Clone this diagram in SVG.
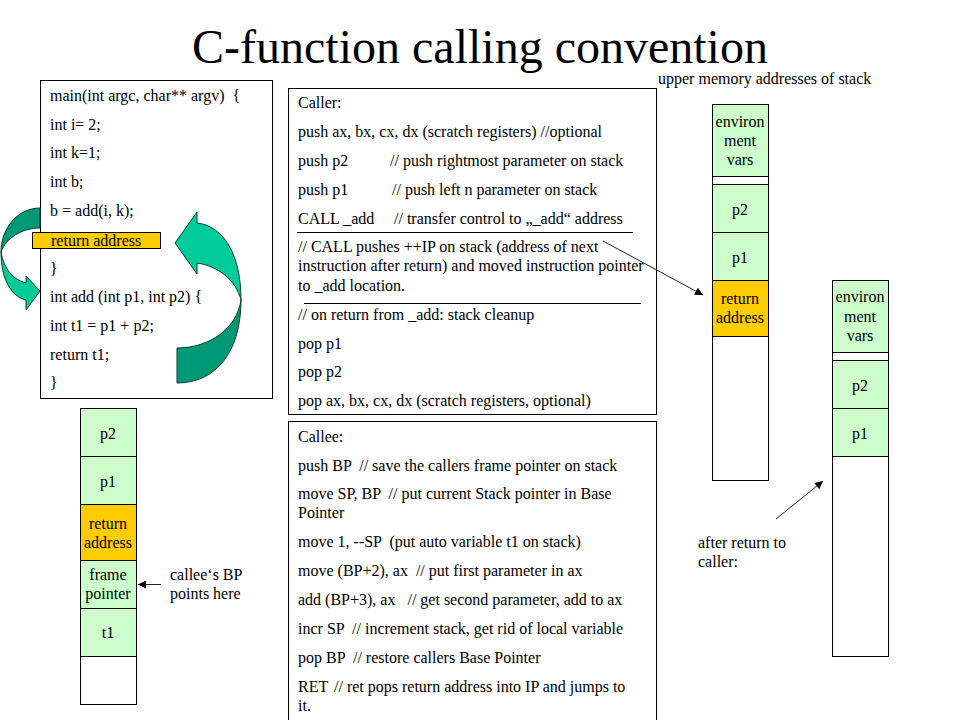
<svg xmlns="http://www.w3.org/2000/svg" width="960" height="720" viewBox="0 0 960 720">
<style>
.t{font-family:"Liberation Serif","Times New Roman",serif;font-size:16px;fill:#000;white-space:pre}
.c{text-anchor:middle}
.box{fill:#fff;stroke:#000;stroke-width:1}
.g{fill:#ccffcc;stroke:#000;stroke-width:1}
.y{fill:#ffcc00;stroke:#000;stroke-width:1}
.w{fill:#fff;stroke:#000;stroke-width:1}
.ln{stroke:#000;stroke-width:1;fill:none}
.con{stroke:#222;stroke-width:1;fill:none;marker-end:url(#ah)}
.dk{fill:#009977;stroke:#0b3d2e;stroke-width:1}
.lt{fill:#00cc99;stroke:#0b3d2e;stroke-width:1}
</style>
<defs>
<marker id="ah" viewBox="0 0 10 10" refX="10" refY="5" markerWidth="10" markerHeight="8" markerUnits="userSpaceOnUse" orient="auto">
<path d="M0,0 L10,5 L0,10 z" fill="#000"/>
</marker>
</defs>
<rect width="960" height="720" fill="#fff"/>
<text x="480" y="63" class="t c" style="font-size:48px">C-function calling convention</text>

<g id="code">
<rect x="40.5" y="80.5" width="232" height="318" class="box"/>
<text class="t" x="50" y="101">main(int argc, char** argv)  {</text>
<text class="t" x="50" y="130">int i= 2;</text>
<text class="t" x="50" y="158">int k=1;</text>
<text class="t" x="50" y="187">int b;</text>
<text class="t" x="50" y="216">b = add(i, k);</text>
<text class="t" x="50" y="274">}</text>
<text class="t" x="50" y="302">int add (int p1, int p2) {</text>
<text class="t" x="50" y="331">int t1 = p1 + p2;</text>
<text class="t" x="50" y="360">return t1;</text>
<text class="t" x="50" y="388">}</text>
</g>

<g id="flow-arrows">
<path class="dk" d="M40,208 C18,208 1,228 1,252 C6,238 22,228 40,228 Z"/>
<path class="lt" d="M1,252 C1,280 12,297 26,300 L26,310 L40,291 L26,276 L26,283 C14,280 4,270 1,252 Z"/>
<path class="dk" d="M177,383 C216,383 241,352 241,300 C237,328 210,348 177,348 Z"/>
<path class="lt" d="M241,300 C241,255 224,226 197,223 L197,212 L175,243 L197,274 L197,263 C218,266 236,280 241,300 Z"/>
</g>

<g id="return-address-line">
<rect x="32.5" y="232.5" width="128" height="16" class="y"/>
<text class="t" x="51" y="246">return address</text>
</g>

<g id="caller">
<rect x="288.5" y="88.5" width="368" height="326" class="box"/>
<text class="t" x="298" y="108">Caller:</text>
<text class="t" x="298" y="137">push ax, bx, cx, dx (scratch registers) //optional</text>
<text class="t" x="298" y="166">push p2<tspan x="390">// push rightmost parameter on stack</tspan></text>
<text class="t" x="298" y="195">push p1<tspan x="392">// push left n parameter on stack</tspan></text>
<text class="t" x="298" y="224">CALL _add<tspan x="394">// transfer control to „_add“ address</tspan></text>
<line x1="297" y1="232.5" x2="633" y2="232.5" class="ln"/>
<text class="t" x="298" y="252">// CALL pushes ++IP on stack (address of next</text>
<text class="t" x="298" y="271">instruction after return) and moved instruction pointer</text>
<text class="t" x="298" y="291">to _add location.</text>
<line x1="304" y1="303.5" x2="641" y2="303.5" class="ln"/>
<text class="t" x="298" y="320">// on return from _add: stack cleanup</text>
<text class="t" x="298" y="349">pop p1</text>
<text class="t" x="298" y="377">pop p2</text>
<text class="t" x="298" y="406">pop ax, bx, cx, dx (scratch registers, optional)</text>
</g>

<g id="callee">
<rect x="288.5" y="421.5" width="368" height="310" class="box"/>
<text class="t" x="298" y="442">Callee:</text>
<text class="t" x="298" y="471">push BP  // save the callers frame pointer on stack</text>
<text class="t" x="298" y="499">move SP, BP  // put current Stack pointer in Base</text>
<text class="t" x="298" y="518">Pointer</text>
<text class="t" x="298" y="547">move 1, --SP  (put auto variable t1 on stack)</text>
<text class="t" x="298" y="576">move (BP+2), ax  // put first parameter in ax</text>
<text class="t" x="298" y="605">add (BP+3), ax   // get second parameter, add to ax</text>
<text class="t" x="298" y="634">incr SP  // increment stack, get rid of local variable</text>
<text class="t" x="298" y="663">pop BP  // restore callers Base Pointer</text>
<text class="t" x="298" y="692">RET<tspan x="334">// ret pops return address into IP and jumps to</tspan></text>
<text class="t" x="298" y="711">it.</text>
</g>

<g id="stack-during-call">
<text class="t" x="658" y="84">upper memory addresses of stack</text>
<rect x="712.5" y="104.5" width="56" height="376" class="w"/>
<rect x="712.5" y="104.5" width="56" height="72" class="g"/>
<rect x="712.5" y="184.5" width="56" height="48" class="g"/>
<rect x="712.5" y="232.5" width="56" height="48" class="g"/>
<rect x="712.5" y="280.5" width="56" height="56" class="y"/>
<text class="t c" x="740" y="127">environ</text>
<text class="t c" x="740" y="146">ment</text>
<text class="t c" x="740" y="165">vars</text>
<text class="t c" x="740" y="215">p2</text>
<text class="t c" x="740" y="263">p1</text>
<text class="t c" x="740" y="304">return</text>
<text class="t c" x="740" y="323">address</text>
</g>

<g id="stack-after-return">
<rect x="832.5" y="280.5" width="56" height="376" class="w"/>
<rect x="832.5" y="280.5" width="56" height="72" class="g"/>
<rect x="832.5" y="360.5" width="56" height="48" class="g"/>
<rect x="832.5" y="408.5" width="56" height="48" class="g"/>
<text class="t c" x="860" y="302">environ</text>
<text class="t c" x="860" y="322">ment</text>
<text class="t c" x="860" y="341">vars</text>
<text class="t c" x="860" y="391">p2</text>
<text class="t c" x="860" y="439">p1</text>
<text class="t" x="698" y="548">after return to</text>
<text class="t" x="698" y="567">caller:</text>
</g>

<g id="stack-in-callee">
<rect x="80.5" y="408.5" width="56" height="296" class="w"/>
<rect x="80.5" y="408.5" width="56" height="48" class="g"/>
<rect x="80.5" y="456.5" width="56" height="48" class="g"/>
<rect x="80.5" y="504.5" width="56" height="56" class="y"/>
<rect x="80.5" y="560.5" width="56" height="48" class="g"/>
<rect x="80.5" y="608.5" width="56" height="48" class="g"/>
<text class="t c" x="108" y="439">p2</text>
<text class="t c" x="108" y="487">p1</text>
<text class="t c" x="108" y="529">return</text>
<text class="t c" x="108" y="548">address</text>
<text class="t c" x="108" y="580">frame</text>
<text class="t c" x="108" y="599">pointer</text>
<text class="t c" x="108" y="638">t1</text>
<text class="t" x="170" y="580">callee‘s BP</text>
<text class="t" x="170" y="599">points here</text>
</g>

<g id="connectors">
<line class="con" x1="603" y1="241" x2="703" y2="295"/>
<line class="con" x1="776" y1="519" x2="823" y2="481"/>
<line class="con" x1="161" y1="584.5" x2="138" y2="584.5"/>
</g>
</svg>
